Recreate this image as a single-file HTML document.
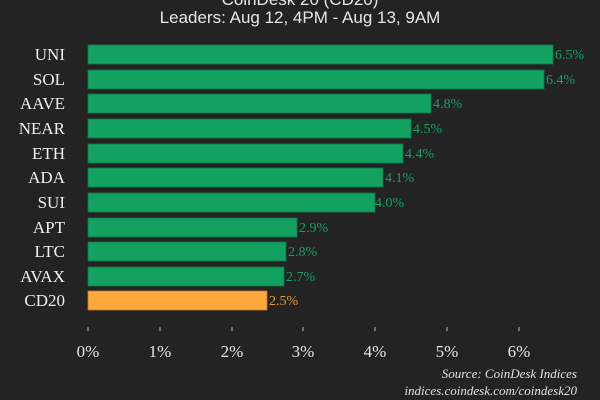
<!DOCTYPE html><html><head><style>body{margin:0;background:#232323}svg{display:block}</style></head><body>
<svg width="600" height="400" xmlns="http://www.w3.org/2000/svg">
<rect width="600" height="400" fill="#232323"/>
<g font-family="Liberation Sans, sans-serif" fill="#e6e6e6" font-size="17" text-anchor="middle">
<text x="300" y="5">CoinDesk 20 (CD20)</text>
<text x="300" y="23">Leaders: Aug 12, 4PM - Aug 13, 9AM</text>
</g>
<g font-family="Liberation Serif, serif" font-size="17">
<g fill="#12a160" stroke="#0b7a47" stroke-width="0.8">
<rect x="88" y="45" width="465" height="19"/>
<rect x="88" y="70" width="456" height="19"/>
<rect x="88" y="94" width="343" height="19"/>
<rect x="88" y="119" width="323" height="19"/>
<rect x="88" y="144" width="315" height="19"/>
<rect x="88" y="168" width="295" height="19"/>
<rect x="88" y="193" width="287" height="19"/>
<rect x="88" y="218" width="209" height="19"/>
<rect x="88" y="242" width="198" height="19"/>
<rect x="88" y="267" width="196" height="19"/>
</g>
<rect x="88" y="291" width="179" height="19" fill="#ffa83c" stroke="#c07a20" stroke-width="0.8"/>
<g fill="#f0f0f0" text-anchor="end">
<text x="65" y="60">UNI</text><text x="65" y="85">SOL</text><text x="65" y="109">AAVE</text><text x="65" y="134">NEAR</text><text x="65" y="159">ETH</text><text x="65" y="183">ADA</text><text x="65" y="208">SUI</text><text x="65" y="233">APT</text><text x="65" y="257">LTC</text><text x="65" y="282">AVAX</text><text x="65" y="306">CD20</text>
</g>
<g fill="#12a160" font-size="14">
<text x="555" y="59">6.5%</text><text x="546" y="84">6.4%</text><text x="433" y="108">4.8%</text><text x="413" y="133">4.5%</text><text x="405" y="158">4.4%</text><text x="385" y="182">4.1%</text><text x="375" y="207">4.0%</text><text x="299" y="232">2.9%</text><text x="288" y="256">2.8%</text><text x="286" y="281">2.7%</text>
<text x="269" y="305" fill="#e8962e">2.5%</text>
</g>
<g stroke="#bbb" stroke-width="1">
<line x1="88" y1="327" x2="88" y2="331"/><line x1="160" y1="327" x2="160" y2="331"/><line x1="232" y1="327" x2="232" y2="331"/><line x1="303" y1="327" x2="303" y2="331"/><line x1="375" y1="327" x2="375" y2="331"/><line x1="447" y1="327" x2="447" y2="331"/><line x1="519" y1="327" x2="519" y2="331"/>
</g>
<g fill="#e6e6e6" text-anchor="middle">
<text x="88" y="357">0%</text><text x="160" y="357">1%</text><text x="232" y="357">2%</text><text x="303" y="357">3%</text><text x="375" y="357">4%</text><text x="447" y="357">5%</text><text x="519" y="357">6%</text>
</g>
<g fill="#e0e0e0" font-style="italic" font-size="13" text-anchor="end">
<text x="577" y="378">Source: CoinDesk Indices</text>
<text x="577" y="395">indices.coindesk.com/coindesk20</text>
</g>
</g>
</svg>
</body></html>
